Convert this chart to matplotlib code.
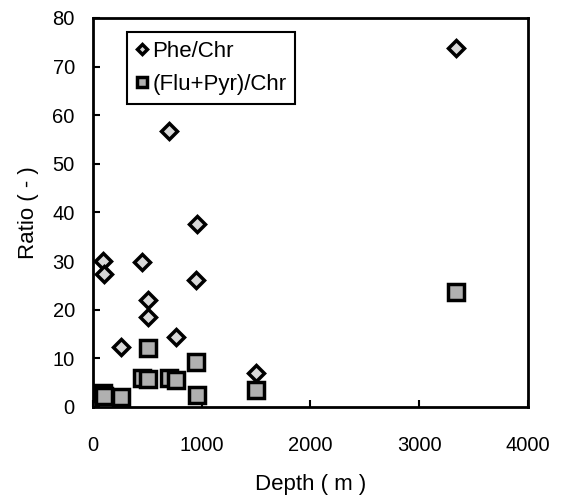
import matplotlib
matplotlib.use("Agg")
import matplotlib.pyplot as plt

plt.rcParams['font.family'] = ['Liberation Sans', 'DejaVu Sans']

# depth (m) and ratios
depth = [90, 100, 260, 450, 510, 510, 700, 765, 950, 960, 1500, 3340]
phe_chr = [30.0, 27.3, 12.4, 29.8, 22.0, 18.5, 56.8, 14.4, 26.0, 37.7, 7.0, 73.8]
depth_fp = [90, 100, 260, 450, 510, 510, 700, 765, 950, 960, 1500, 3340]
flu_pyr_chr = [2.8, 2.3, 2.1, 6.0, 12.1, 5.8, 6.0, 5.5, 9.2, 2.5, 3.5, 23.6]

fig = plt.figure(figsize=(5.63, 4.98), dpi=100)
ax = fig.add_axes([0.165, 0.183, 0.773, 0.781])

ax.plot(depth, phe_chr, linestyle='none', marker='D', markersize=8,
        markerfacecolor='#d8d8d8', markeredgecolor='black', markeredgewidth=2.5,
        label='Phe/Chr')
ax.plot(depth_fp, flu_pyr_chr, linestyle='none', marker='s', markersize=11,
        markerfacecolor='#b0b0b0', markeredgecolor='black', markeredgewidth=2.5,
        label='(Flu+Pyr)/Chr')

ax.set_xlim(0, 4000)
ax.set_ylim(0, 80)
ax.set_xticks([0, 1000, 2000, 3000, 4000])
ax.set_yticks(range(0, 81, 10))
ax.tick_params(direction='in', length=5, width=1.5, labelsize=14.5)
ax.tick_params(axis='x', pad=21)
ax.tick_params(axis='y', pad=13)
for s in ax.spines.values():
    s.set_linewidth(2)

ax.set_xlabel('Depth ( m )', fontsize=16, labelpad=14)
ax.set_ylabel('Ratio ( - )', fontsize=16, labelpad=10)

leg = ax.legend(loc='upper left', bbox_to_anchor=(0.078, 0.964), borderaxespad=0,
                fontsize=16, handlelength=0.55, handletextpad=0.2, borderpad=0.4,
                labelspacing=0.55, fancybox=False, edgecolor='black',
                framealpha=1, markerscale=0.7)
leg.get_frame().set_linewidth(1.5)

fig.savefig('out.png', dpi=100)
